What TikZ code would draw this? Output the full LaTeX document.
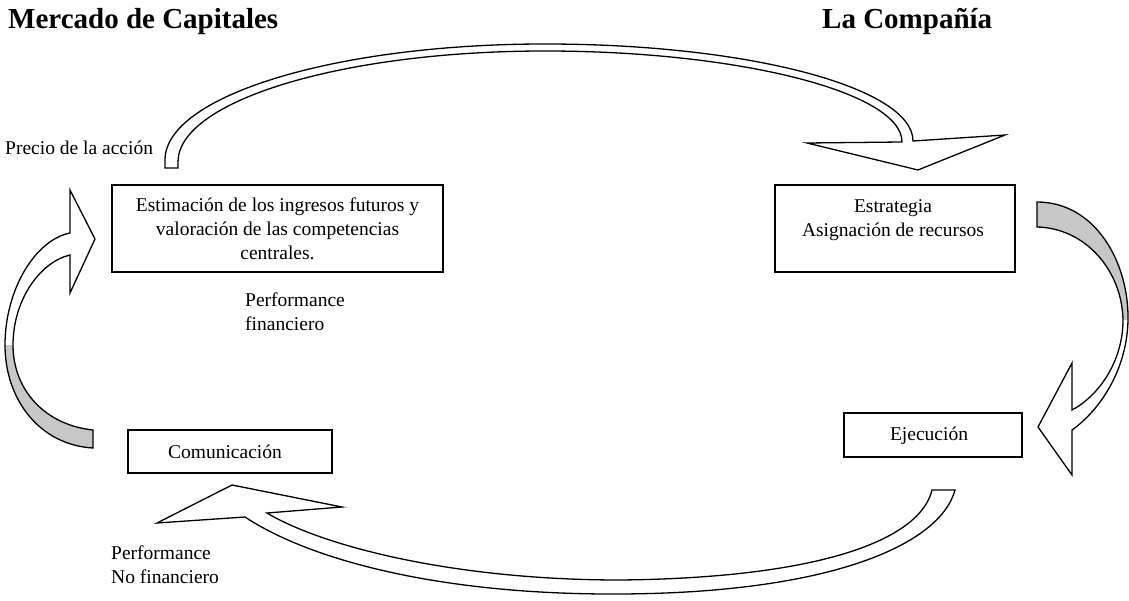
\documentclass[tikz,border=0pt]{standalone}
\usepackage{fontspec}
\setmainfont{Liberation Serif}
\begin{document}
\begin{tikzpicture}[x=1pt,y=-1pt,
  box/.style={draw=black, line width=1.6pt, rectangle, inner sep=0pt, fill=white},
  txt/.style={font=\fontsize{19.5}{24}\selectfont, inner sep=0pt},
  heading/.style={font=\fontsize{29}{32}\selectfont\bfseries, inner sep=0pt},
  outline/.style={draw=black, line width=1.3pt, line join=miter},
  backface/.style={fill=black!22}
]
\useasboundingbox (0,0) rectangle (1129,601);

% headings
\node[heading, anchor=base west] (market) at (8,29) {Mercado de Capitales};
\node[heading, anchor=base west] (company) at (822,29) {La Compañía};

% upper curved arrow: market -> company
\filldraw[outline, fill=white]
  (165,168) -- (178,168) -- (178,162)
  .. controls (178,101) and (342,51) .. (545,51)
  .. controls (738,51) and (902,92) .. (902,142)
  -- (807,143) -- (918,170) -- (1005,135) -- (913,141)
  .. controls (913,88) and (750,44) .. (545,44)
  .. controls (335,44) and (165,96) .. (165,160) -- cycle;

% right curved arrow: strategy -> execution
\path[fill=white]
  (1037,202) .. controls (1095,202) and (1129,262) .. (1128,320)
  .. controls (1127,370) and (1100,410) .. (1072,430)
  -- (1072,475) -- (1038,427) -- (1072,363) -- (1072,410)
  .. controls (1100,395) and (1123,360) .. (1123,320)
  .. controls (1122,270) and (1085,228) .. (1037,227) -- cycle;
\fill[backface]
  (1037,202) .. controls (1095,202) and (1129,262) .. (1128,320)
  -- (1123,320) .. controls (1122,270) and (1085,228) .. (1037,227) -- cycle;
\draw[outline]
  (1037,202) .. controls (1095,202) and (1129,262) .. (1128,320)
  .. controls (1127,370) and (1100,410) .. (1072,430)
  -- (1072,475) -- (1038,427) -- (1072,363) -- (1072,410)
  .. controls (1100,395) and (1123,360) .. (1123,320)
  .. controls (1122,270) and (1085,228) .. (1037,227) -- cycle;

% lower curved arrow: execution -> communication
\filldraw[outline, fill=white]
  (932,490) -- (955,490)
  .. controls (940,545) and (830,593) .. (620,594)
  .. controls (440,595) and (310,560) .. (245,517)
  -- (157,523) -- (232,485) -- (342,507) -- (267,513)
  .. controls (320,545) and (450,580) .. (620,580)
  .. controls (820,578) and (920,540) .. (932,490) -- cycle;

% left curved arrow: communication -> market
\path[fill=white]
  (93,448) .. controls (40,445) and (5,400) .. (5,345)
  .. controls (5,290) and (35,240) .. (70,233)
  -- (70,190) -- (95,239) -- (70,293) -- (70,255)
  .. controls (40,262) and (13,300) .. (13,345)
  .. controls (13,390) and (45,425) .. (93,430) -- cycle;
\fill[backface]
  (93,448) .. controls (40,445) and (5,400) .. (5,345)
  -- (13,345) .. controls (13,390) and (45,425) .. (93,430) -- cycle;
\draw[outline]
  (93,448) .. controls (40,445) and (5,400) .. (5,345)
  .. controls (5,290) and (35,240) .. (70,233)
  -- (70,190) -- (95,239) -- (70,293) -- (70,255)
  .. controls (40,262) and (13,300) .. (13,345)
  .. controls (13,390) and (45,425) .. (93,430) -- cycle;

% boxes
\node[box, minimum width=331pt, minimum height=87pt] (estim) at (277.5,228.5) {};
\node[txt, align=center] (estimtext) at (277.5,229)
  {Estimación de los ingresos futuros y\\valoración de las competencias\\centrales.};

\node[box, minimum width=240pt, minimum height=87pt] (strat) at (895,228.5) {};
\node[txt, align=center] (strattext) at (893,220)
  {Estrategia\\Asignación de recursos};

\node[box, minimum width=204pt, minimum height=43pt] (comm) at (230,451.5) {};
\node[txt] (commtext) at (225,452) {Comunicación};

\node[box, minimum width=178pt, minimum height=44pt] (exec) at (933,435) {};
\node[txt] (exectext) at (929,436) {Ejecución};

% free labels
\node[txt, anchor=west] (price) at (5,148) {Precio de la acción};
\node[txt, align=left, anchor=west] (perffin) at (245,312) {Performance\\financiero};
\node[txt, align=left, anchor=west] (perfnofin) at (111,565) {Performance\\No financiero};
\end{tikzpicture}
\end{document}
